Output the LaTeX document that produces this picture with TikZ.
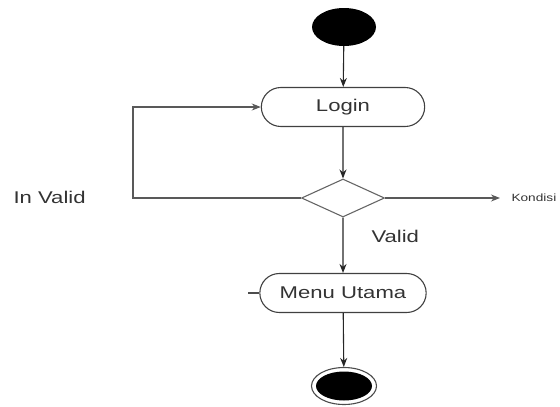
\documentclass[tikz,border=0pt]{standalone}
\usepackage{fontspec}
\setmainfont{Liberation Sans}[FakeStretch=1.3]
\usetikzlibrary{%
  arrows.meta,shapes.geometric,shapes.misc}
\tikzset {>={Stealth[length=9pt,width=7pt]}}
\tikzset{
  act/.style={draw=black!75,line width=1.1pt,rounded rectangle,minimum width=170pt,
    minimum height=39pt,font=\fontsize{17}{20}\selectfont,text=black!80},
  cond/.style={draw=black!60,line width=1.1pt,diamond,minimum width=83pt,
    minimum height=38pt,inner sep=0pt},
  flow/.style={->,black!85,line width=1.1pt},
  lbl/.style={font=\fontsize{17}{20}\selectfont,text=black!80}
}

\begin{document}
\begin{tikzpicture}[x=1pt,y=-1pt]
\useasboundingbox (0,0) rectangle (560,407);
\node[ellipse,fill=black,minimum width=64pt,minimum height=38pt,inner sep=0pt]
  (start) at (344,27) {};
\node[act] (login) at (343,107) {Login};
\node[cond] (cek) at (343,198) {};
\node[act,minimum width=173pt] (menu) at (343,293) {Menu Utama};
\node[ellipse,draw=black!70,line width=1.1pt,minimum width=65pt,
  minimum height=37pt,inner sep=0pt] (stop) at (344,386) {};
\node[ellipse,fill=black,minimum width=56pt,minimum height=29pt,inner sep=0pt]
  at (stop) {};
\coordinate (kond) at (500,198);
\coordinate (stub) at (248,293);
\draw[flow] (start) -- (login);
\draw[flow] (login) -- (cek);
\draw[flow] (cek) -- (menu);
\draw[flow] (menu) -- (stop);
\draw[flow,black!65] (cek.east) -- (kond);
\draw[flow,black!65] (cek.west) -- (133,198) |- (login.west);
\draw[black!70,line width=1.1pt] (stub) -- (menu.west);
\node[lbl,anchor=west] (invalid) at (10,197) {In Valid};
\node[lbl,anchor=west] (valid) at (368,236) {Valid};
\node[anchor=west,font=\fontsize{10.5}{12}\selectfont,text=black!80] (kondisi)
  at (508,198) {Kondisi};
\end{tikzpicture}
\end{document}
